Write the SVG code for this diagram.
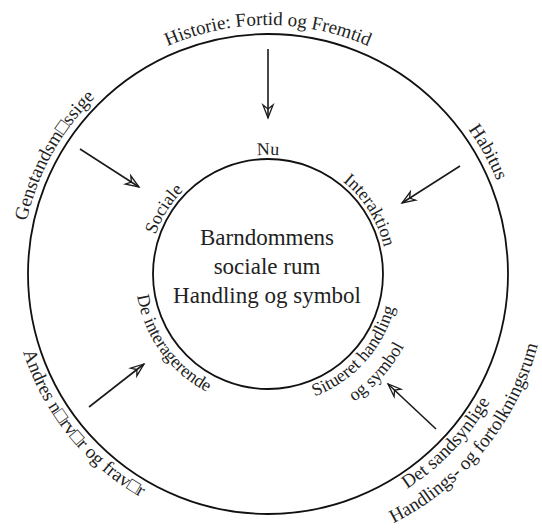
<svg xmlns="http://www.w3.org/2000/svg" xmlns:xlink="http://www.w3.org/1999/xlink" width="542" height="529" viewBox="0 0 542 529">
<style>
.ring{fill:none;stroke:#111;stroke-width:1.8}
.conn{stroke:#1a1a1a;stroke-width:1.6;fill:none}
.t{font-family:"Liberation Serif","DejaVu Serif",serif;fill:#222}
.outer{font-size:19px}
.inner{font-size:18px}
.center{font-size:23px}
</style>
<defs>
<marker id="ah" markerUnits="userSpaceOnUse" markerWidth="20" markerHeight="14" viewBox="-15 -7 17 14" refX="0" refY="0" orient="auto">
<path d="M-13,-5 L0,0 L-13,5 L-9,0 Z" fill="none" stroke="#1a1a1a" stroke-width="1.3" stroke-linejoin="miter"/>
</marker>
<path id="pHist" d="M52.4,149.5 A249,249 0 0 1 483.6,149.5"/>
<path id="pGen" d="M56.3,401.2 A247,247 0 0 1 263.7,27"/>
<path id="pHab" d="M272.3,27 A247,247 0 0 1 479.7,401.2"/>
<path id="pNu" d="M164.9,214.5 A119,119 0 0 1 371.1,214.5"/>
<path id="pInt" d="M263.8,155.1 A119,119 0 0 1 373.1,329.9"/>
<path id="pSoc" d="M162.9,329.9 A119,119 0 0 1 272.2,155.1"/>
<path id="pDe" d="M146.8,219.9 A133,133 0 0 0 282.5,406.2"/>
<path id="pSit1" d="M240.8,402.1 A131,131 0 0 0 392.6,233.5"/>
<path id="pSit2" d="M236,424.6 A154,154 0 0 0 414.5,226.4"/>
<path id="pAnd" d="M28.1,181.9 A257,257 0 0 0 308.2,527.8"/>
<path id="pDet1" d="M208.2,522.9 A256,256 0 0 0 513.5,201.3"/>
<path id="pDet2" d="M224.4,549.6 A279,279 0 0 0 528.5,174"/>
</defs>

<g id="outer-ring">
<circle class="ring" cx="268" cy="274" r="240"/>
<text class="t outer" text-anchor="middle"><textPath xlink:href="#pHist" href="#pHist" startOffset="50%">Historie: Fortid og Fremtid</textPath></text>
<text class="t outer" text-anchor="middle"><textPath xlink:href="#pGen" href="#pGen" startOffset="50%">Genstandsm□ssige</textPath></text>
<text class="t outer" text-anchor="middle"><textPath xlink:href="#pHab" href="#pHab" startOffset="50%">Habitus</textPath></text>
<text class="t outer" text-anchor="middle"><textPath xlink:href="#pAnd" href="#pAnd" startOffset="50%">Andres n□rv□r og frav□r</textPath></text>
<text class="t outer" text-anchor="middle"><textPath xlink:href="#pDet1" href="#pDet1" startOffset="50%">Det sandsynlige</textPath></text>
<text class="t outer" text-anchor="middle"><textPath xlink:href="#pDet2" href="#pDet2" startOffset="50%">Handlings- og fortolkningsrum</textPath></text>
</g>

<g id="inner-ring">
<circle class="ring" cx="268" cy="274" r="115"/>
<text class="t inner" text-anchor="middle"><textPath xlink:href="#pNu" href="#pNu" startOffset="50%">Nu</textPath></text>
<text class="t inner" text-anchor="middle"><textPath xlink:href="#pInt" href="#pInt" startOffset="50%">Interaktion</textPath></text>
<text class="t inner" text-anchor="middle"><textPath xlink:href="#pSoc" href="#pSoc" startOffset="50%">Sociale</textPath></text>
<text class="t inner" text-anchor="middle"><textPath xlink:href="#pDe" href="#pDe" startOffset="50%">De interagerende</textPath></text>
<text class="t inner" text-anchor="middle"><textPath xlink:href="#pSit1" href="#pSit1" startOffset="50%">Situeret handling</textPath></text>
<text class="t inner" text-anchor="middle"><textPath xlink:href="#pSit2" href="#pSit2" startOffset="50%">og symbol</textPath></text>
<text class="t center" text-anchor="middle" x="267" y="245">Barndommens</text>
<text class="t center" text-anchor="middle" x="267" y="274">sociale rum</text>
<text class="t center" text-anchor="middle" x="267" y="303">Handling og symbol</text>
</g>

<g id="connectors">
<line class="conn" x1="268" y1="49" x2="268" y2="118" marker-end="url(#ah)"/>
<line class="conn" x1="80" y1="149" x2="139" y2="187" marker-end="url(#ah)"/>
<line class="conn" x1="460" y1="166" x2="402" y2="203" marker-end="url(#ah)"/>
<line class="conn" x1="89" y1="407" x2="144" y2="364" marker-end="url(#ah)"/>
<line class="conn" x1="436" y1="429" x2="388" y2="384" marker-end="url(#ah)"/>
</g>
</svg>
